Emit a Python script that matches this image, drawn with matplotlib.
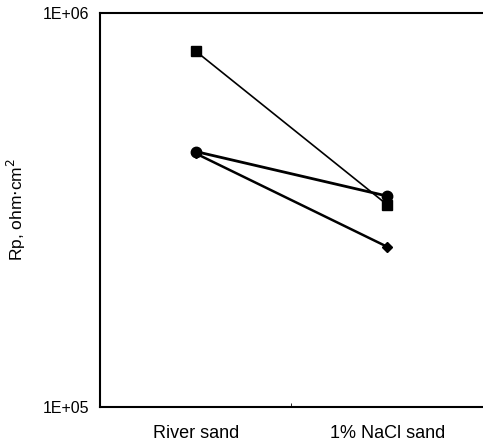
import numpy as np
import matplotlib.pyplot as plt

categories = ["River sand", "1% NaCl sand"]
rp_square = [8.0e5, 3.26e5]
rp_circle = [4.45e5, 3.43e5]
rp_diamond = [4.4e5, 2.55e5]

plt.rcParams['font.family'] = ['Liberation Sans', 'DejaVu Sans']

fig = plt.figure(figsize=(4.83, 4.43), dpi=100)
ax = fig.add_axes([0.207, 0.0813, 0.793, 0.8894])

x = np.array([0.5, 1.5])
ax.plot(x, rp_square, color='black', lw=1.2, marker='s', ms=7)
ax.plot(x, rp_circle, color='black', lw=2.0, marker='o', ms=7.5)
ax.plot(x, rp_diamond, color='black', lw=1.8, marker='D', ms=5)

ax.set_yscale('log')
ax.set_ylim(1e5, 1e6)
ax.set_xlim(0, 2)
ax.set_yticks([1e5, 1e6])
ax.set_yticklabels(["1E+05", "1E+06"])
ax.yaxis.set_minor_locator(plt.NullLocator())
ax.set_xticks(x)
ax.set_xticklabels(categories)
ax.set_xticks([1.0], minor=True)
ax.tick_params(axis='x', which='major', length=0, pad=13, labelsize=13)
ax.tick_params(axis='x', which='minor', length=3, direction='in')
ax.tick_params(axis='y', length=0, pad=8, labelsize=11.5)
ax.set_ylabel("Rp, ohm$\\cdot$cm$^2$", fontsize=12.5, labelpad=10)

ax.spines['right'].set_visible(False)
for s in ['left', 'top', 'bottom']:
    ax.spines[s].set_linewidth(1.5)

fig.savefig("out.png", dpi=100)
